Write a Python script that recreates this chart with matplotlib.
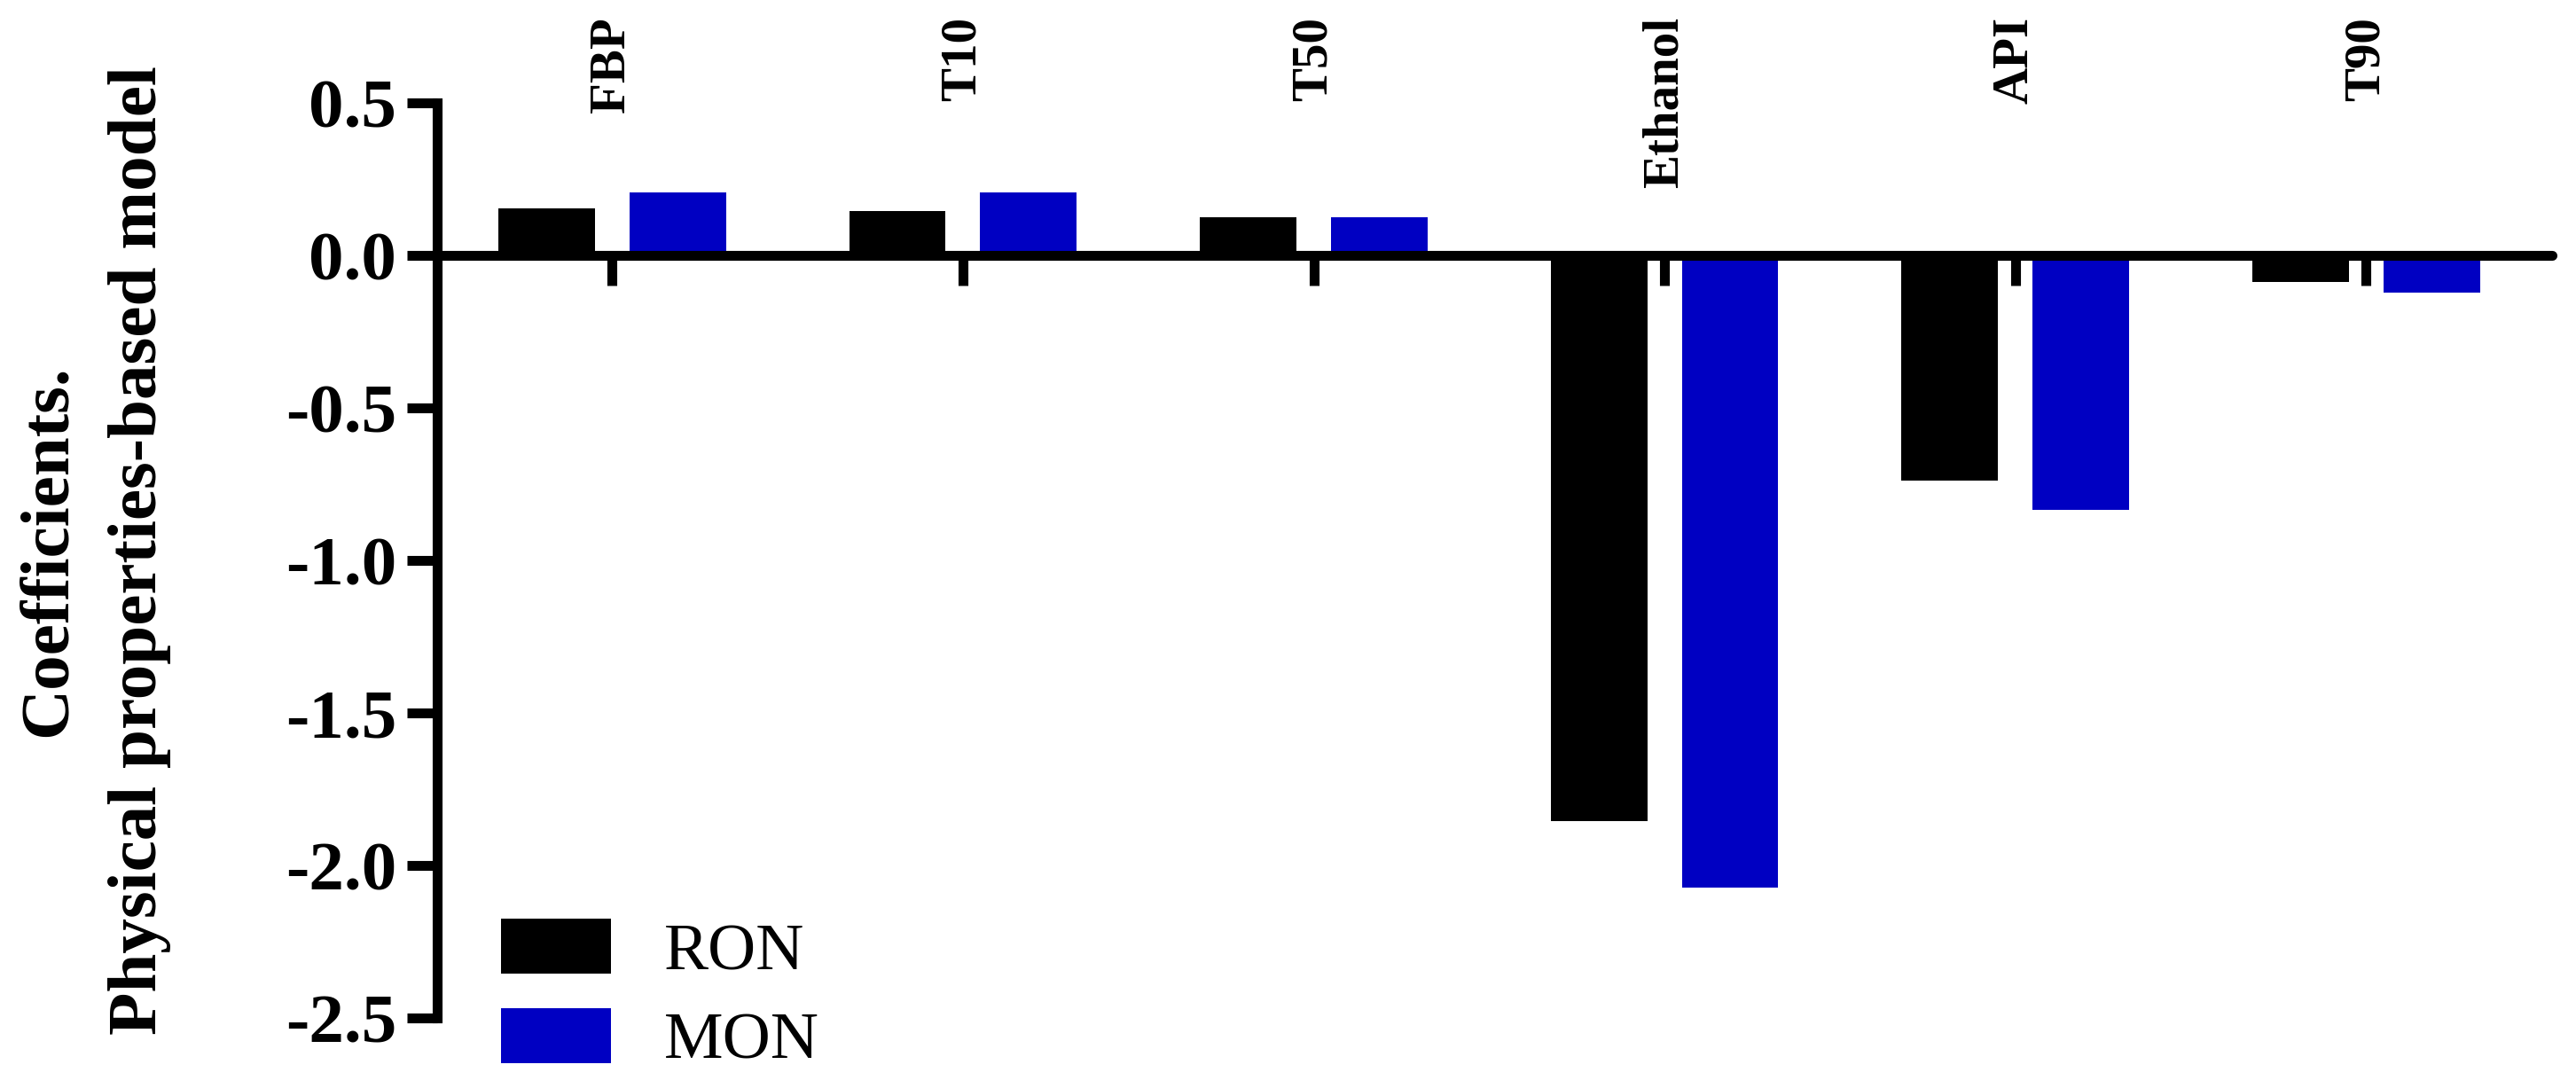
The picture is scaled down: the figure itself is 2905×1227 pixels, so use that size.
import matplotlib
matplotlib.use("Agg")
import matplotlib.pyplot as plt
import matplotlib.transforms as mtransforms
import numpy as np

categories = ["FBP", "T10", "T50", "Ethanol", "API", "T90"]
ron_values = [0.155, 0.145, 0.125, -1.855, -0.738, -0.086]
mon_values = [0.205, 0.205, 0.125, -2.073, -0.835, -0.122]
series_names = ["RON", "MON"]
y_ticks = [0.5, 0.0, -0.5, -1.0, -1.5, -2.0, -2.5]
y_label = "Coefficients.\nPhysical properties-based model"

plt.rcParams['font.family'] = ['Liberation Serif', 'DejaVu Serif']

W, H = 2905, 1227
fig = plt.figure(figsize=(W / 100, H / 100), dpi=100)
ax = fig.add_axes([492.5 / W, 1 - 1148 / H, (2878 - 492.5) / W, (1148 - 116) / H])

x = np.arange(len(categories))
bw = 0.275
off = 0.187
ax.bar(x - off, ron_values, width=bw, color="black", label=series_names[0], zorder=2)
ax.bar(x + off, mon_values, width=bw, color="#0000C2", label=series_names[1], zorder=2)

ax.set_xlim(-0.5, 5.53)
ax.set_ylim(-2.5, 0.5)

for s in ["top", "right"]:
    ax.spines[s].set_visible(False)
ax.spines["bottom"].set_position(("data", 0))
ax.spines["bottom"].set_linewidth(8)
ax.spines["bottom"].set_capstyle("round")
ax.spines["bottom"].set_zorder(3)
ax.spines["left"].set_linewidth(8)

ax.set_xticks(x)
ax.set_xticklabels([])
ax.tick_params(axis="x", direction="out", length=24.5, width=8, bottom=True)
ax.set_yticks(y_ticks)
ax.set_yticklabels([f"{v:.1f}" for v in y_ticks], fontsize=57, fontweight="bold")
ax.tick_params(axis="y", direction="out", length=24.5, width=8, pad=8)

trans = mtransforms.blended_transform_factory(ax.transData, fig.transFigure)
for xi, name in zip(x, categories):
    ax.text(xi, 1 - 19 / H, name, transform=trans, rotation=90, ha="center", va="top",
            fontsize=41, fontweight="bold")

fig.text(106 / W, 1 - 621 / H, y_label, rotation=90, ha="center", va="center",
         multialignment="center", fontsize=57, fontweight="bold", linespacing=1.58)

leg = ax.legend(loc="upper left", bbox_to_anchor=(565 / W, 1 - 1036 / H),
                bbox_transform=fig.transFigure, frameon=False, fontsize=54,
                handlelength=1.65, handleheight=0.9, handletextpad=0.8,
                labelspacing=0.37, borderpad=0, borderaxespad=0)

fig.savefig("out.png", dpi=100)
